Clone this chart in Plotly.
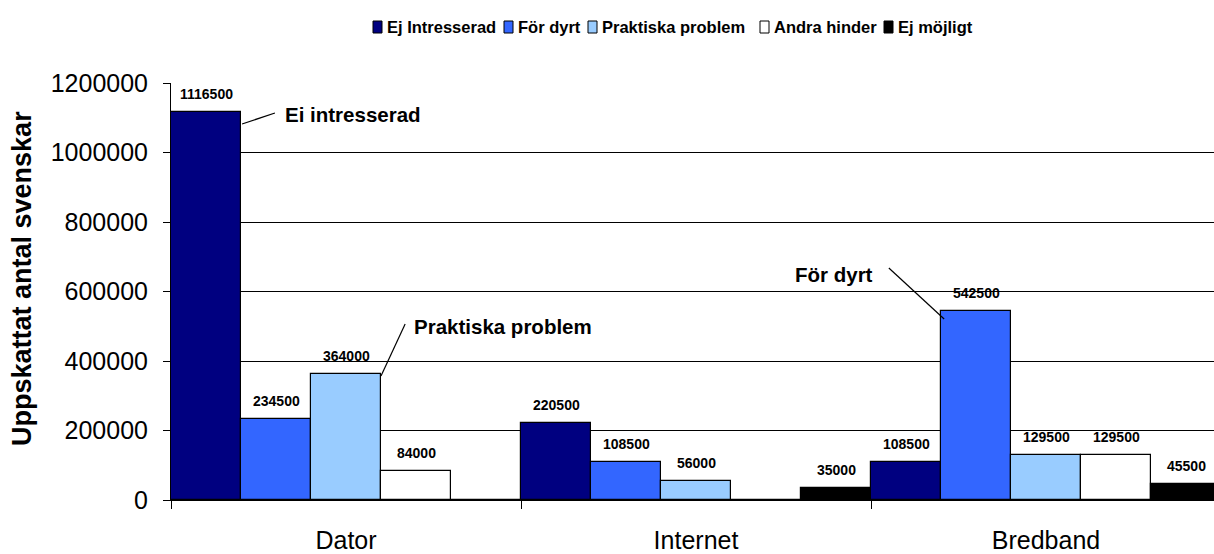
import plotly.graph_objects as go

categories = ["Dator", "Internet", "Bredband"]
series_names = ["Ej Intresserad", "För dyrt", "Praktiska problem", "Andra hinder", "Ej möjligt"]
ej_intresserad = [1116500, 220500, 108500]
for_dyrt = [234500, 108500, 542500]
praktiska_problem = [364000, 56000, 129500]
andra_hinder = [84000, 0, 129500]
ej_mojligt = [0, 35000, 45500]
colors = ["#000080", "#3366FF", "#99CCFF", "#FFFFFF", "#000000"]
y_ticks = [0, 200000, 400000, 600000, 800000, 1000000, 1200000]

FONT = "Arial, 'Liberation Sans', sans-serif"

W, H = 1214, 554
PLOT_L, PLOT_R, PLOT_T, PLOT_B = 171, 1214, 83, 500


def px(x):
    return (x - PLOT_L) / (PLOT_R - PLOT_L)


def py(y):
    return (PLOT_B - y) / (PLOT_B - PLOT_T)


fig = go.Figure()
all_series = [ej_intresserad, for_dyrt, praktiska_problem, andra_hinder, ej_mojligt]
for name, vals, col in zip(series_names, all_series, colors):
    fig.add_trace(go.Bar(
        name=name, x=categories, y=vals,
        marker=dict(color=col, line=dict(color="black", width=1.2)),
        showlegend=False,
    ))

# value labels above bars
bar_px = (PLOT_R - PLOT_L) / 2.98 / len(series_names)
for i, vals in enumerate(all_series):
    for cat, v in zip(categories, vals):
        if v:
            fig.add_annotation(x=cat, y=v, xref="x", yref="y", text=str(v),
                               showarrow=False, xshift=(i - 2) * bar_px, yshift=18,
                               yanchor="middle",
                               font=dict(family=FONT, size=14, color="black", weight="bold"))

# leader-line callouts
callouts = [
    ("Ei intresserad", -0.297, 1082000, -0.203, 1113700, -0.18, 1110000, "left"),
    ("Praktiska problem", 0.100, 357000, 0.169, 506500, 0.188, 500700, "left"),
    ("För dyrt", 1.551, 667600, 1.709, 520900, 1.511, 647500, "right"),
]
for txt, x0, y0, x1, y1, tx, ty, anchor in callouts:
    fig.add_shape(type="line", x0=x0, y0=y0, x1=x1, y1=y1, xref="x", yref="y",
                  line=dict(color="black", width=1.2))
    fig.add_annotation(x=tx, y=ty, xref="x", yref="y", text=txt, showarrow=False,
                       xanchor=anchor, yanchor="middle",
                       font=dict(family=FONT, size=20.5, color="black", weight="bold"))

# y-axis title
fig.add_annotation(x=px(22), y=py(279), xref="paper", yref="paper",
                   text="Uppskattat antal svenskar", showarrow=False, textangle=-90,
                   xanchor="center", yanchor="middle",
                   font=dict(family=FONT, size=27, color="black", weight="bold"))

# legend (drawn manually to match compact spacing)
legend_sym_x = [373, 504, 588, 760, 884]
for name, col, sx in zip(series_names, colors, legend_sym_x):
    fig.add_shape(type="rect", xref="paper", yref="paper",
                  x0=px(sx), x1=px(sx + 9), y0=py(33), y1=py(21),
                  fillcolor=col, line=dict(color="black", width=1))
    fig.add_annotation(x=px(sx + 12), y=py(27), xref="paper", yref="paper",
                       text=name, showarrow=False, xanchor="left", yanchor="middle",
                       font=dict(family=FONT, size=16.5, color="black", weight="bold"))

fig.update_layout(
    width=W, height=H,
    margin=dict(l=PLOT_L, r=W - PLOT_R, t=PLOT_T, b=H - PLOT_B),
    paper_bgcolor="white", plot_bgcolor="white",
    barmode="group", bargap=0, bargroupgap=0,
    font=dict(family=FONT, color="black"),
    showlegend=False,
    xaxis=dict(range=[-0.5, 2.48], tickson="boundaries", ticks="outside", ticklen=8,
               tickcolor="black", showline=True, linecolor="black", linewidth=1,
               showgrid=False, ticklabelstandoff=18,
               tickfont=dict(family=FONT, size=25, color="black")),
    yaxis=dict(range=[0, 1200000], tickvals=y_ticks, ticktext=[str(v) for v in y_ticks],
               ticks="outside", ticklen=7, tickcolor="black",
               showline=True, linecolor="black", linewidth=1,
               showgrid=True, gridcolor="black", gridwidth=1, zeroline=False,
               ticklabelstandoff=10,
               tickfont=dict(family=FONT, size=25, color="black")),
)

fig.write_html("out.html", config={"displayModeBar": False},
               post_script="document.body.style.margin='0';document.body.style.overflow='hidden';")
